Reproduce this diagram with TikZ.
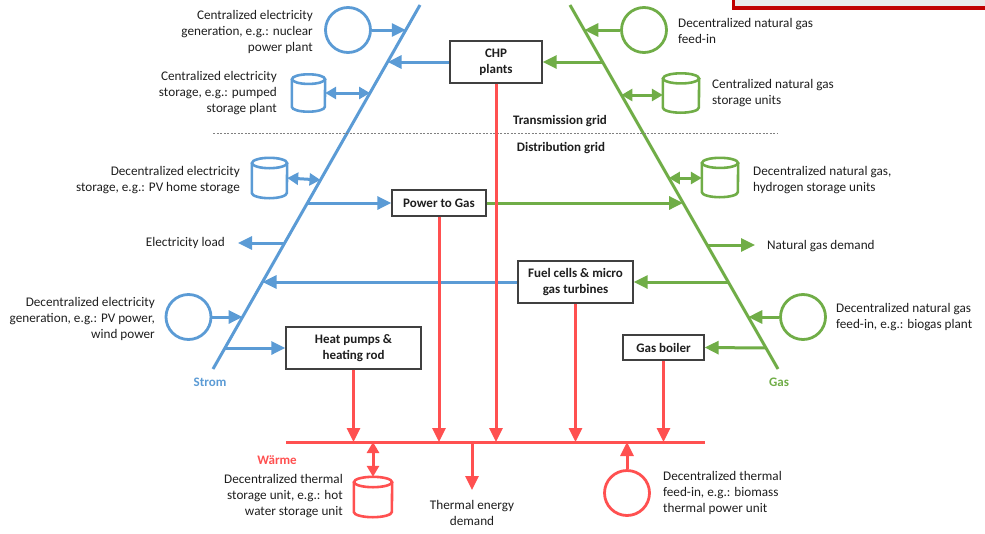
\documentclass[tikz,border=0pt]{standalone}
\usepackage{fontspec}
\setmainfont{Carlito}
\usetikzlibrary{arrows.meta,calc}
\definecolor{cblue}{HTML}{5B9BD5}
\definecolor{cgreen}{HTML}{70AD47}
\definecolor{cred}{HTML}{FF5050}
\definecolor{ctext}{HTML}{1E1E1E}
\definecolor{cbox}{HTML}{404040}
\definecolor{cdark}{HTML}{C00000}
\definecolor{cpanel}{HTML}{E9E9E9}
\tikzset{
  lbl/.style={font=\fontsize{13.2}{16}\selectfont, text=ctext, inner sep=0pt},
  axislbl/.style={font=\bfseries\fontsize{13}{16}\selectfont, inner sep=0pt},
  boxn/.style={draw=cbox, line width=1.3pt, fill=white, font=\bfseries\fontsize{13}{16}\selectfont, align=center, inner sep=0pt, text=ctext},
  flow/.style={line width=3pt, -{Triangle[length=14pt,width=13pt]}},
  dflow/.style={line width=3pt, {Triangle[length=11pt,width=12pt]}-{Triangle[length=11pt,width=12pt]}},
  plain/.style={line width=3pt},
  src/.style={circle, line width=2.8pt, minimum size=45pt, inner sep=0pt},
}
\newcommand\drum[6]{%
  \pgfmathsetmacro\drumrx{#4/2}\pgfmathsetmacro\drumry{0.13*#5}%
  \node[inner sep=0pt, minimum width=#4pt, minimum height=#5pt] (#1) at (#2,#3) {};
  \draw[#6, line width=2.6pt] ($(#1.north)+(0,\drumry)$) ellipse [x radius=\drumrx pt, y radius=\drumry pt];
  \draw[#6, line width=2.6pt] ($(#1.north west)+(0,\drumry)$) -- ($(#1.south west)+(0,-\drumry)$) arc[start angle=180,end angle=360,x radius=\drumrx pt,y radius=\drumry pt] -- ($(#1.north east)+(0,\drumry)$);
}
\begin{document}
\begin{tikzpicture}[x=1pt,y=-1pt]
\useasboundingbox (0,0) rectangle (985,533);
% panel at top right
\begin{scope}
\clip (0,0) rectangle (985,533);
\draw[draw=cdark, fill=cpanel, line width=3.5pt] (733.7,-10) rectangle (1000,8.2);
\end{scope}

% main axes
\coordinate (sB) at (213,369);
\coordinate (sT) at (420,5);
\coordinate (gT) at (570,5);
\coordinate (gB) at (778,369);
\draw[cblue, plain] (sB) -- (sT);
\draw[cgreen, plain] (gT) -- (gB);
\coordinate (wL) at (286,442);
\coordinate (wR) at (705,442);
\draw[cred, plain] (wL) -- (wR);

% grid separator
\coordinate (dL) at (213,133);
\coordinate (dR) at (778,133);
\draw[gray, line width=0.8pt, dash pattern=on 2pt off 1.5pt] (dL) -- (dR);
\node[axislbl, text=ctext] (trans) at (560,121) {Transmission grid};
\node[axislbl, text=ctext] (dist) at (561,148) {Distribution grid};

% points on the electricity line
\coordinate (b30) at (405.8,30);
\coordinate (b62) at (387.6,62);
\coordinate (b93) at (370.0,93);
\coordinate (b180) at (320.5,180);
\coordinate (b203) at (307.4,203);
\coordinate (b243) at (284.7,243);
\coordinate (b282) at (262.5,282);
\coordinate (b317) at (242.6,317);
\coordinate (b348) at (224.9,348);
% points on the gas line
\coordinate (g30) at (584.3,30);
\coordinate (g62) at (602.6,62);
\coordinate (g95) at (621.4,95);
\coordinate (g178) at (668.9,178);
\coordinate (g203) at (683.1,203);
\coordinate (g245) at (707.1,245);
\coordinate (g282) at (728.3,282);
\coordinate (g317) at (748.3,317);
\coordinate (g348) at (766.0,348);

% converter boxes
\node[boxn, minimum width=92pt, minimum height=42pt] (chp) at (496,62) {CHP\\plants};
\node[boxn, minimum width=94pt, minimum height=26pt] (p2g) at (439,203) {Power to Gas};
\node[boxn, minimum width=115pt, minimum height=42pt] (fc) at (575.5,282) {Fuel cells \& micro\\gas turbines};
\node[boxn, minimum width=135pt, minimum height=42pt] (hp) at (353.5,348) {Heat pumps \&\\heating rod};
\node[boxn, minimum width=81pt, minimum height=25pt] (gb) at (663.5,347.5) {Gas boiler};

% electricity side
\node[src, draw=cblue] (ceg) at (348,30) {};
\draw[cblue, flow] (ceg.east) -- (b30);
\node[lbl, anchor=east, align=right] (ceglbl) at (313,32) {Centralized electricity\\generation, e.g.: nuclear\\power plant};
\draw[cblue, flow] (chp.west) -- (b62);
\drum{ces}{308.5}{93}{33}{37}{cblue}
\draw[cblue, dflow] (ces.east) -- (b93);
\node[lbl, anchor=east, align=right] (ceslbl) at (277,93) {Centralized electricity\\storage, e.g.: pumped\\storage plant};
\drum{des}{269.5}{178}{35}{40}{cblue}
\draw[cblue, dflow] (des.east) -- (b180);
\node[lbl, anchor=east, align=right] (deslbl) at (240,180) {Decentralized electricity\\storage, e.g.: PV home storage};
\draw[cblue, flow] (b203) -- (p2g.west);
\coordinate (eloadend) at (238,243);
\draw[cblue, flow] (b243) -- (eloadend);
\node[lbl, anchor=east] (eload) at (225,243) {Electricity load};
\draw[cblue, flow] (fc.west) -- (b282);
\node[src, draw=cblue] (deg) at (188.5,317) {};
\draw[cblue, flow] (deg.east) -- (b317);
\node[lbl, anchor=east, align=right] (deglbl) at (155,319) {Decentralized electricity\\generation, e.g.: PV power,\\wind power};
\draw[cblue, flow] (b348) -- (hp.west);
\node[axislbl, text=cblue] (strom) at (210,382) {Strom};

% gas side
\node[src, draw=cgreen] (dgf) at (644,30) {};
\draw[cgreen, flow] (dgf.west) -- (g30);
\node[lbl, anchor=west, align=left] (dgflbl) at (678,31) {Decentralized natural gas\\feed-in};
\draw[cgreen, flow] (g62) -- (chp.east);
\drum{cgs}{681}{93}{36}{39}{cgreen}
\draw[cgreen, dflow] (g95) -- (cgs.west |- g95);
\node[lbl, anchor=west, align=left] (cgslbl) at (712,93) {Centralized natural gas\\storage units};
\drum{dgs}{720}{177.5}{36}{39}{cgreen}
\draw[cgreen, dflow] (g178) -- (dgs.west |- g178);
\node[lbl, anchor=west, align=left] (dgslbl) at (753,180) {Decentralized natural gas,\\hydrogen storage units};
\draw[cgreen, flow] (p2g.east) -- (g203);
\coordinate (gdemend) at (755,245);
\draw[cgreen, flow] (g245) -- (gdemend);
\node[lbl, anchor=west] (gdem) at (767,246) {Natural gas demand};
\draw[cgreen, flow] (g282) -- (fc.east);
\node[src, draw=cgreen] (bgf) at (803,317) {};
\draw[cgreen, flow] (bgf.west) -- (g317);
\node[lbl, anchor=west, align=left] (bgflbl) at (836,317) {Decentralized natural gas\\feed-in, e.g.: biogas plant};
\draw[cgreen, flow] (g348) -- (gb.east);
\node[axislbl, text=cgreen] (gas) at (779,382) {Gas};

% heat side
\draw[cred, flow] (chp.south) -- (chp.south |- wL);
\draw[cred, flow] (p2g.south) -- (p2g.south |- wL);
\draw[cred, flow] (hp.south) -- (hp.south |- wL);
\draw[cred, flow] (fc.south) -- (fc.south |- wL);
\draw[cred, flow] (gb.south) -- (gb.south |- wL);
\node[axislbl, text=cred] (waerme) at (277,460) {Wärme};
\drum{tsu}{373}{497}{38}{40}{cred}
\draw[cred, dflow] (tsu.north |- wL) -- (tsu.north);
\node[lbl, anchor=east, align=right] (tsulbl) at (343,496) {Decentralized thermal\\storage unit, e.g.: hot\\water storage unit};
\coordinate (tdemend) at (472,490);
\draw[cred, flow] (tdemend |- wL) -- (tdemend);
\node[lbl, align=center] (tdem) at (472,513) {Thermal energy\\demand};
\node[src, draw=cred] (tfi) at (627,493) {};
\draw[cred, flow] (tfi.north) -- (tfi.north |- wL);
\node[lbl, anchor=west, align=left] (tfilbl) at (663,493) {Decentralized thermal\\feed-in, e.g.: biomass\\thermal power unit};
\end{tikzpicture}
\end{document}
